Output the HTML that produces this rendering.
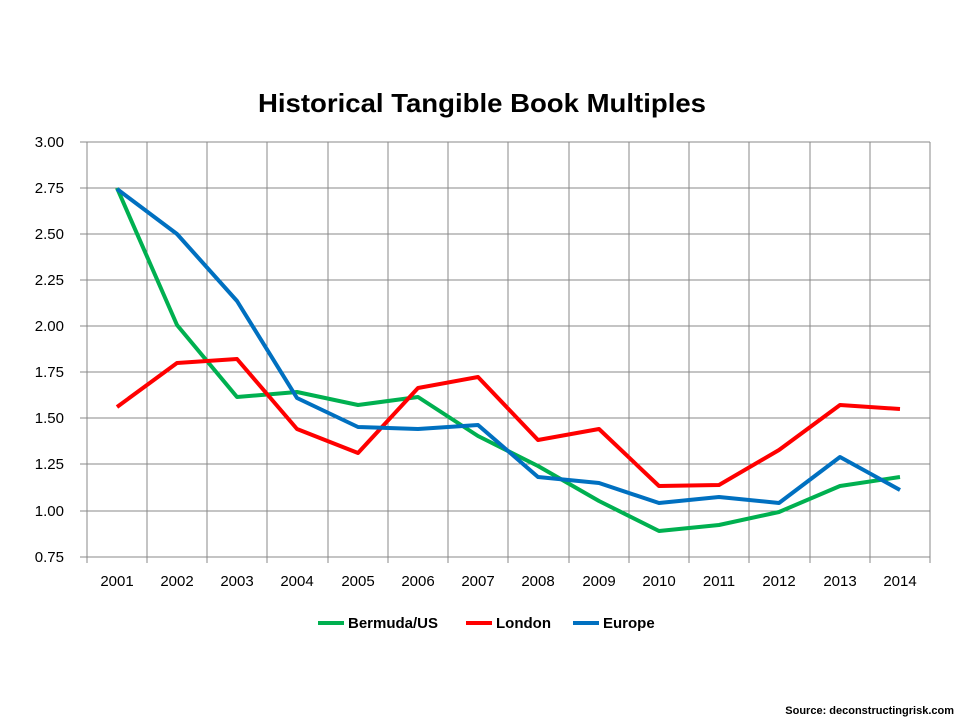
<!DOCTYPE html><html><head><style>body{margin:0;background:#fff}svg text{font-family:"Liberation Sans",sans-serif}</style></head><body>
<svg width="960" height="720" xmlns="http://www.w3.org/2000/svg">
<text x="258" y="112" font-size="26" font-weight="bold" textLength="448" lengthAdjust="spacingAndGlyphs">Historical Tangible Book Multiples</text>
<g stroke="#888" stroke-width="1">
<line x1="80" y1="142" x2="930" y2="142"/><line x1="80" y1="188" x2="930" y2="188"/><line x1="80" y1="234" x2="930" y2="234"/><line x1="80" y1="280" x2="930" y2="280"/><line x1="80" y1="326" x2="930" y2="326"/><line x1="80" y1="372" x2="930" y2="372"/><line x1="80" y1="418" x2="930" y2="418"/><line x1="80" y1="464" x2="930" y2="464"/><line x1="80" y1="511" x2="930" y2="511"/><line x1="80" y1="557" x2="930" y2="557"/>
<line x1="87" y1="142" x2="87" y2="563"/><line x1="147" y1="142" x2="147" y2="563"/><line x1="207" y1="142" x2="207" y2="563"/><line x1="267" y1="142" x2="267" y2="563"/><line x1="328" y1="142" x2="328" y2="563"/><line x1="388" y1="142" x2="388" y2="563"/><line x1="448" y1="142" x2="448" y2="563"/><line x1="508" y1="142" x2="508" y2="563"/><line x1="569" y1="142" x2="569" y2="563"/><line x1="629" y1="142" x2="629" y2="563"/><line x1="689" y1="142" x2="689" y2="563"/><line x1="749" y1="142" x2="749" y2="563"/><line x1="810" y1="142" x2="810" y2="563"/><line x1="870" y1="142" x2="870" y2="563"/><line x1="930" y1="142" x2="930" y2="563"/>
</g>
<g font-size="15" text-anchor="end">
<text x="64" y="147">3.00</text><text x="64" y="193">2.75</text><text x="64" y="239">2.50</text><text x="64" y="285">2.25</text><text x="64" y="331">2.00</text><text x="64" y="377">1.75</text><text x="64" y="423">1.50</text><text x="64" y="469">1.25</text><text x="64" y="516">1.00</text><text x="64" y="562">0.75</text>
</g>
<g font-size="15" text-anchor="middle">
<text x="117" y="586">2001</text><text x="177" y="586">2002</text><text x="237" y="586">2003</text><text x="297" y="586">2004</text><text x="358" y="586">2005</text><text x="418" y="586">2006</text><text x="478" y="586">2007</text><text x="538" y="586">2008</text><text x="599" y="586">2009</text><text x="659" y="586">2010</text><text x="719" y="586">2011</text><text x="779" y="586">2012</text><text x="840" y="586">2013</text><text x="900" y="586">2014</text>
</g>
<g fill="none" stroke-width="4" stroke-linejoin="round">
<polyline stroke="#00b050" points="117,188 177,325 237,397 297,392 358,405 418,397 478,436 538,466 599,501 659,531 719,525 779,512 840,486 900,477"/>
<polyline stroke="#ff0000" points="117,407 177,363 237,359 297,429 358,453 418,388 478,377 538,440 599,429 659,486 719,485 779,450 840,405 900,409"/>
<polyline stroke="#0070c0" points="117,189 177,234 237,301 297,398 358,427 418,429 478,425 538,477 599,483 659,503 719,497 779,503 840,457 900,490"/>
</g>
<g stroke-width="4"><line x1="318" y1="623" x2="344" y2="623" stroke="#00b050"/><line x1="466" y1="623" x2="492" y2="623" stroke="#ff0000"/><line x1="573" y1="623" x2="599" y2="623" stroke="#0070c0"/></g>
<g font-size="15" font-weight="bold"><text x="348" y="628">Bermuda/US</text><text x="496" y="628">London</text><text x="603" y="628">Europe</text></g>
<text x="954" y="714" font-size="11" font-weight="bold" text-anchor="end">Source: deconstructingrisk.com</text>
</svg></body></html>
